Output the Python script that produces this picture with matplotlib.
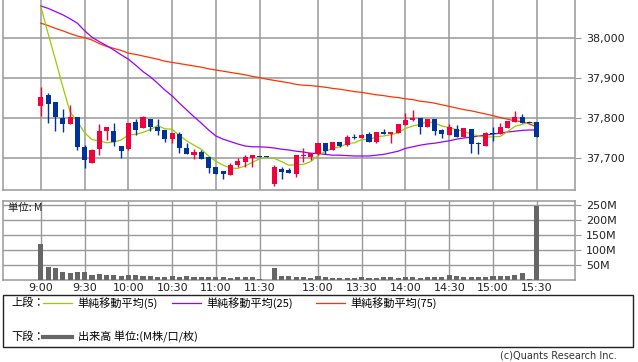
import matplotlib
matplotlib.use("Agg")
import matplotlib.pyplot as plt
from matplotlib.patches import Rectangle
from matplotlib.lines import Line2D
from matplotlib.ticker import FuncFormatter

# 5-minute candles, 9:00 - 15:30 (slot index on the x axis)
opens = [37831, 37858, 37839, 37799, 37785, 37802, 37727, 37687, 37722, 37768,
         37768, 37730, 37722, 37791, 37774, 37797, 37778, 37770, 37748, 37760,
         37724, 37708, 37716, 37703, 37677, 37668, 37658, 37683, 37691, 37699,
         37706, 37704, 37634, 37673, 37670, 37659, 37705, 37703, 37710, 37738,
         37720, 37741, 37733, 37752, 37749, 37760, 37741, 37766, 37760, 37763,
         37783, 37795, 37799, 37778, 37797, 37770, 37758, 37772, 37753, 37772,
         37737, 37731, 37763, 37759, 37776, 37791, 37802, 37791, 37789]
highs = [37877, 37862, 37839, 37822, 37833, 37802, 37733, 37723, 37784, 37777,
         37788, 37730, 37787, 37797, 37805, 37797, 37797, 37770, 37762, 37766,
         37737, 37722, 37720, 37703, 37677, 37668, 37687, 37699, 37708, 37708,
         37706, 37704, 37683, 37678, 37674, 37708, 37724, 37713, 37738, 37738,
         37741, 37741, 37758, 37759, 37760, 37766, 37766, 37772, 37764, 37785,
         37812, 37820, 37799, 37797, 37797, 37772, 37785, 37783, 37776, 37772,
         37741, 37766, 37778, 37787, 37793, 37818, 37810, 37791, 37789]
lows = [37805, 37788, 37768, 37766, 37785, 37720, 37674, 37687, 37708, 37745,
        37730, 37699, 37721, 37758, 37774, 37768, 37758, 37741, 37737, 37712,
        37710, 37697, 37698, 37662, 37659, 37648, 37658, 37677, 37678, 37678,
        37703, 37702, 37630, 37647, 37662, 37653, 37691, 37695, 37708, 37710,
        37720, 37728, 37730, 37747, 37749, 37741, 37737, 37759, 37738, 37763,
        37783, 37793, 37760, 37778, 37758, 37751, 37758, 37753, 37753, 37713,
        37710, 37731, 37743, 37759, 37776, 37791, 37787, 37788, 37753]
closes = [37852, 37835, 37803, 37785, 37802, 37728, 37695, 37720, 37768, 37777,
          37741, 37718, 37787, 37770, 37802, 37778, 37768, 37748, 37762, 37726,
          37710, 37716, 37698, 37676, 37660, 37660, 37683, 37693, 37702, 37708,
          37703, 37702, 37678, 37666, 37662, 37708, 37708, 37713, 37738, 37718,
          37741, 37731, 37752, 37749, 37758, 37741, 37766, 37759, 37764, 37785,
          37795, 37799, 37778, 37797, 37768, 37759, 37777, 37753, 37776, 37734,
          37734, 37763, 37760, 37778, 37793, 37802, 37787, 37788, 37753]

ma5 = [38078, 38010, 37945, 37878, 37815, 37791, 37763, 37746, 37743, 37738,
       37740, 37745, 37758, 37759, 37764, 37771, 37781, 37773, 37772, 37756,
       37743, 37732, 37722, 37705, 37692, 37682, 37675, 37674, 37680, 37689,
       37698, 37702, 37699, 37691, 37682, 37683, 37684, 37691, 37706, 37717,
       37724, 37728, 37736, 37738, 37746, 37746, 37753, 37755, 37758, 37763,
       37774, 37780, 37784, 37791, 37787, 37780, 37776, 37771, 37767, 37760,
       37755, 37752, 37753, 37754, 37766, 37779, 37784, 37790, 37785]
ma25 = [38080, 38074, 38066, 38058, 38048, 38037, 38018, 38002, 37991, 37981,
        37970, 37958, 37947, 37932, 37916, 37903, 37887, 37870, 37855, 37837,
        37820, 37803, 37787, 37770, 37755, 37747, 37741, 37735, 37730, 37728,
        37728, 37727, 37725, 37722, 37720, 37717, 37715, 37712, 37711, 37709,
        37707, 37707, 37706, 37705, 37705, 37705, 37707, 37709, 37713, 37717,
        37724, 37728, 37732, 37735, 37737, 37740, 37743, 37747, 37750, 37752,
        37755, 37757, 37760, 37762, 37765, 37767, 37769, 37770, 37770]
ma75 = [38037, 38031, 38024, 38018, 38011, 38005, 38001, 37995, 37986, 37979,
        37974, 37969, 37962, 37959, 37955, 37951, 37947, 37942, 37939, 37936,
        37933, 37930, 37927, 37923, 37920, 37917, 37914, 37911, 37908, 37904,
        37901, 37897, 37894, 37891, 37888, 37884, 37882, 37881, 37879, 37877,
        37874, 37872, 37869, 37866, 37864, 37861, 37858, 37856, 37853, 37851,
        37848, 37846, 37842, 37840, 37837, 37833, 37829, 37825, 37821, 37818,
        37814, 37810, 37806, 37801, 37797, 37793, 37791, 37785, 37778]

# volume in millions of shares
volume = [120, 44, 39, 26, 24, 26, 26, 16, 20, 16,
          16, 13, 16, 16, 13, 13, 10, 10, 13, 10,
          13, 10, 10, 10, 10, 10, 7, 10, 10, 10,
          2, 0, 41, 13, 13, 10, 10, 7, 13, 10,
          7, 7, 7, 7, 10, 7, 7, 10, 10, 7,
          10, 10, 7, 10, 10, 10, 16, 13, 10, 10,
          10, 10, 13, 13, 13, 16, 24, 2, 245]

tick_slots = [0, 6, 12, 18, 24, 30, 38, 44, 50, 56, 62, 68]
tick_labels = ["9:00", "9:30", "10:00", "10:30", "11:00", "11:30",
               "13:00", "13:30", "14:00", "14:30", "15:00", "15:30"]
price_ticks = [37700, 37800, 37900, 38000]
vol_ticks = [50, 100, 150, 200, 250]

UP = "#f0003c"
DOWN = "#003399"
GRID = "#999999"
W, H = 638, 362

plt.rcParams["font.family"] = ["DejaVu Sans", "Noto Sans CJK JP"]
jp = ["Noto Sans CJK JP", "DejaVu Sans"]

fig = plt.figure(figsize=(W / 100, H / 100), dpi=100)
ax = fig.add_axes([3 / W, 1 - 190 / H, 572 / W, 190 / H])
axv = fig.add_axes([3 / W, 1 - 280 / H, 572 / W, 79 / H])

slots = list(range(len(closes)))

# moving averages
ax.plot(slots, ma75, color="#ff3300", lw=0.9, zorder=3)
ax.plot(slots, ma25, color="#9900ff", lw=0.9, zorder=3)
ax.plot(slots, ma5, color="#99cc00", lw=0.9, zorder=3)

# candles
for i in slots:
    o, h, l, c = opens[i], highs[i], lows[i], closes[i]
    col = UP if c >= o else DOWN
    ax.vlines(i, l, h, color=col, lw=1.0, zorder=4)
    ax.bar(i, max(abs(c - o), 2.5), bottom=min(o, c), width=0.7,
           color=col, zorder=5, linewidth=0)

ax.set_xlim(-5.2, 73.25)
ax.set_ylim(37620, 38095)
ax.set_yticks(price_ticks)
ax.yaxis.set_major_formatter(FuncFormatter(lambda v, p: "{:,.0f}".format(v)))
ax.yaxis.tick_right()
ax.set_xticks(tick_slots)
ax.set_xticklabels([])
ax.tick_params(axis="x", length=0)
ax.tick_params(axis="y", length=4, color=GRID, labelsize=8, pad=4,
               labelcolor="#222222")
ax.grid(True, color=GRID, lw=1.1)
ax.set_axisbelow(True)
for s in ["left", "bottom", "right"]:
    ax.spines[s].set_color(GRID)
    ax.spines[s].set_linewidth(1.1)
ax.spines["top"].set_visible(False)

# volume
axv.bar(slots, volume, width=0.7, color="#666666", linewidth=0, zorder=3)
axv.set_xlim(-5.2, 73.25)
axv.set_ylim(0, 262)
axv.set_yticks(vol_ticks)
axv.set_yticklabels(["{}M".format(v) for v in vol_ticks])
axv.yaxis.tick_right()
axv.set_xticks(tick_slots)
axv.set_xticklabels(tick_labels)
axv.tick_params(axis="x", length=0, labelsize=8, pad=2, labelcolor="#222222")
axv.tick_params(axis="y", length=4, color=GRID, labelsize=8, pad=4,
                labelcolor="#222222")
axv.grid(True, color=GRID, lw=1.0)
axv.set_axisbelow(True)
for s in axv.spines.values():
    s.set_color(GRID)
    s.set_linewidth(1.1)
axv.text(0.008, 0.97, "単位: M", transform=axv.transAxes, ha="left", va="top",
         fontsize=7.5, family=jp, color="#222222")

# legend box
def fx(px):
    return px / W

def fy(py):
    return 1 - py / H

fig.add_artist(Rectangle((fx(3), fy(347)), fx(630), 52 / H, fill=False,
                         edgecolor="#222222", lw=1.0, transform=fig.transFigure))
ma_items = [("#99cc00", "単純移動平均(5)", 43), ("#9900ff", "単純移動平均(25)", 172),
            ("#ff3300", "単純移動平均(75)", 316)]
fig.text(fx(11), fy(303), "上段：", fontsize=8, family=jp, va="center")
for col, lab, x0 in ma_items:
    fig.add_artist(Line2D([fx(x0), fx(x0 + 29)], [fy(303), fy(303)], color=col,
                          lw=0.9, transform=fig.transFigure))
    fig.text(fx(x0 + 34), fy(303), lab, fontsize=8, family=jp, va="center")
fig.text(fx(11), fy(337), "下段：", fontsize=8, family=jp, va="center")
fig.add_artist(Line2D([fx(43), fx(72)], [fy(337), fy(337)], color="#666666",
                      lw=3, transform=fig.transFigure))
fig.text(fx(78), fy(337), "出来高 単位:(M株/口/枚)", fontsize=8, family=jp,
         va="center")
fig.text(fx(617), fy(356), "(c)Quants Research Inc.", fontsize=7, ha="right",
         va="center", color="#333333")

fig.savefig("out.png", dpi=100)
